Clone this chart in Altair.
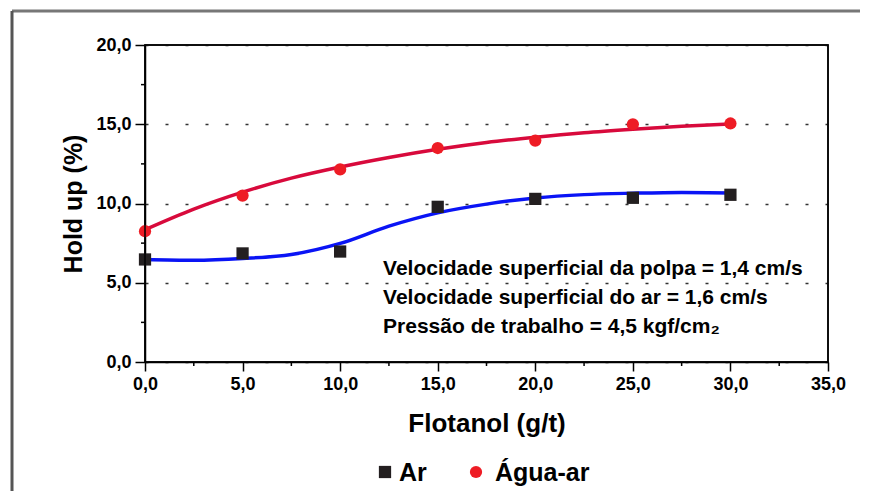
import altair as alt
import pandas as pd

# ---- data ----
dose = [0, 5, 10, 15, 20, 25, 30]
ar = [6.47, 6.85, 6.97, 9.79, 10.29, 10.36, 10.55]
agua_ar = [8.25, 10.50, 12.15, 13.50, 13.97, 15.00, 15.05]

fit_x = [0, 2.5, 5, 7.5, 10, 12.5, 15, 17.5, 20, 22.5, 25, 27.5, 30]
fit_ar = [6.47, 6.42, 6.53, 6.78, 7.48, 8.57, 9.41, 9.96, 10.35, 10.56, 10.65, 10.70, 10.67]
fit_agua_ar = [8.35, 9.65, 10.72, 11.60, 12.30, 12.90, 13.42, 13.85, 14.18, 14.46, 14.68, 14.87, 15.02]

series = ["Ar", "Água-ar"]
x_ticks = [0, 5, 10, 15, 20, 25, 30, 35]
y_ticks = [0, 5, 10, 15, 20]
x_minor = [2.5, 7.5, 12.5, 17.5, 22.5, 27.5, 32.5]
y_minor = [2.5, 7.5, 12.5, 17.5]
x_range = [0, 35]
y_range = [0, 20]

notes = [
    "Velocidade superficial da polpa = 1,4 cm/s",
    "Velocidade superficial do ar = 1,6 cm/s",
    "Pressão de trabalho = 4,5 kgf/cm₂",
]
note_x = [12.2, 12.2, 12.2]
note_y = [5.52, 3.69, 1.86]

# ---- tables ----
pts = pd.DataFrame({
    "x": dose * 2,
    "y": ar + agua_ar,
    "series": [series[0]] * len(dose) + [series[1]] * len(dose),
})
fit_a = pd.DataFrame({"x": fit_x, "y": fit_ar})
fit_b = pd.DataFrame({"x": fit_x, "y": fit_agua_ar})
notes_df = pd.DataFrame({"x": note_x, "y": note_y, "t": notes})
xm = pd.DataFrame({"x": x_minor})
ym = pd.DataFrame({"y": y_minor})
box_df = pd.DataFrame({"x0": [x_range[0]], "x1": [x_range[1]],
                       "y0": [y_range[0]], "y1": [y_range[1]]})
leg_a = pd.DataFrame({"t": [series[0]]})
leg_b = pd.DataFrame({"t": [series[1]]})
one = pd.DataFrame({"k": [0]})

FONT = "Liberation Sans, Arial, sans-serif"
W, H = 683, 317
COL_AR, COL_AGUA = "#231f20", "#ee1c25"
label_expr = "replace(format(datum.value, '.1f'), '.', ',')"

xscale = alt.Scale(domain=x_range, nice=False, zero=False)
yscale = alt.Scale(domain=y_range, nice=False, zero=False)

xaxis = alt.Axis(values=x_ticks, labelExpr=label_expr, tickSize=9, tickWidth=1.5,
                 tickColor="black", domainColor="black", domainWidth=1.5,
                 labelFont=FONT, labelFontSize=18, labelFontWeight="bold",
                 labelColor="black", labelPadding=4, labelFlush=False, grid=False,
                 title="Flotanol (g/t)", titleFont=FONT, titleFontSize=26,
                 titleFontWeight="bold", titleColor="black", titlePadding=17)
yaxis = alt.Axis(values=y_ticks, labelExpr=label_expr, tickSize=10, tickWidth=1.5,
                 tickColor="black", domainColor="black", domainWidth=1.5,
                 labelFont=FONT, labelFontSize=18, labelFontWeight="bold",
                 labelColor="black", labelPadding=4, labelFlush=False, grid=True,
                 gridColor="#333333", gridDash=[3, 17], gridWidth=1.5,
                 title="Hold up (%)", titleFont=FONT, titleFontSize=25,
                 titleFontWeight="bold", titleColor="black", titlePadding=9)

X = alt.X("x:Q", scale=xscale, axis=xaxis)
Y = alt.Y("y:Q", scale=yscale, axis=yaxis)

line_a = alt.Chart(fit_a).mark_line(interpolate="monotone", color="#0a14f5",
                                     strokeWidth=3.5).encode(x=X, y=Y)
line_b = alt.Chart(fit_b).mark_line(interpolate="monotone", color="#d80a3c",
                                     strokeWidth=3.5).encode(x=X, y=Y)

points = alt.Chart(pts).mark_point(filled=True, opacity=1, size=150).encode(
    x=X, y=Y,
    color=alt.Color("series:N", scale=alt.Scale(domain=series, range=[COL_AR, COL_AGUA]),
                    legend=None),
    shape=alt.Shape("series:N", scale=alt.Scale(domain=series, range=["square", "circle"]),
                    legend=None),
)

xminor = alt.Chart(xm).mark_rule(color="black", strokeWidth=1.5).encode(
    x=alt.X("x:Q", scale=xscale), y=alt.value(H), y2=alt.value(H + 4))
yminor = alt.Chart(ym).mark_rule(color="black", strokeWidth=1.5).encode(
    y=alt.Y("y:Q", scale=yscale), x=alt.value(-4), x2=alt.value(0))

text = alt.Chart(notes_df).mark_text(align="left", baseline="alphabetic",
                                     font=FONT, fontSize=21, fontWeight="bold",
                                     color="black").encode(
    x=alt.X("x:Q", scale=xscale), y=alt.Y("y:Q", scale=yscale), text="t:N")

# plot box drawn from the axis ranges
box = alt.Chart(box_df).mark_rect(filled=False, stroke="black", strokeWidth=1.5,
                                  fillOpacity=0).encode(
    x=alt.X("x0:Q", scale=xscale), x2="x1:Q",
    y=alt.Y("y0:Q", scale=yscale), y2="y1:Q")

# legend below the x-axis title
LY = 427
leg_sym_a = alt.Chart(leg_a).mark_point(filled=True, opacity=1, shape="square",
                                        size=150, color=COL_AR).encode(
    x=alt.value(240), y=alt.value(LY))
leg_txt_a = alt.Chart(leg_a).mark_text(align="left", baseline="middle", font=FONT,
                                       fontSize=25, fontWeight="bold",
                                       color="black").encode(
    x=alt.value(254), y=alt.value(LY + 1), text="t:N")
leg_sym_b = alt.Chart(leg_b).mark_point(filled=True, opacity=1, shape="circle",
                                        size=150, color=COL_AGUA).encode(
    x=alt.value(331), y=alt.value(LY))
leg_txt_b = alt.Chart(leg_b).mark_text(align="left", baseline="middle", font=FONT,
                                       fontSize=25, fontWeight="bold",
                                       color="black").encode(
    x=alt.value(350), y=alt.value(LY + 1), text="t:N")

# outer page frame (decorative)
frame_top = alt.Chart(one).mark_rule(color="#777777", strokeWidth=3).encode(
    x=alt.value(-133), x2=alt.value(715), y=alt.value(-34))
frame_left = alt.Chart(one).mark_rule(color="#555555", strokeWidth=3).encode(
    x=alt.value(-133), y=alt.value(-34), y2=alt.value(446))

chart = alt.layer(
    line_a, line_b, points, xminor, yminor, text, box,
    leg_sym_a, leg_txt_a, leg_sym_b, leg_txt_b, frame_top, frame_left
).properties(
    width=W, height=H,
    autosize=alt.AutoSizeParams(type="none"),
    padding={"left": 137, "top": 37, "right": 36, "bottom": 130},
).configure(background="white", view=alt.ViewConfig(stroke="black", strokeWidth=1.5))

chart.save("out.html", embed_options={"renderer": "svg", "actions": False})
